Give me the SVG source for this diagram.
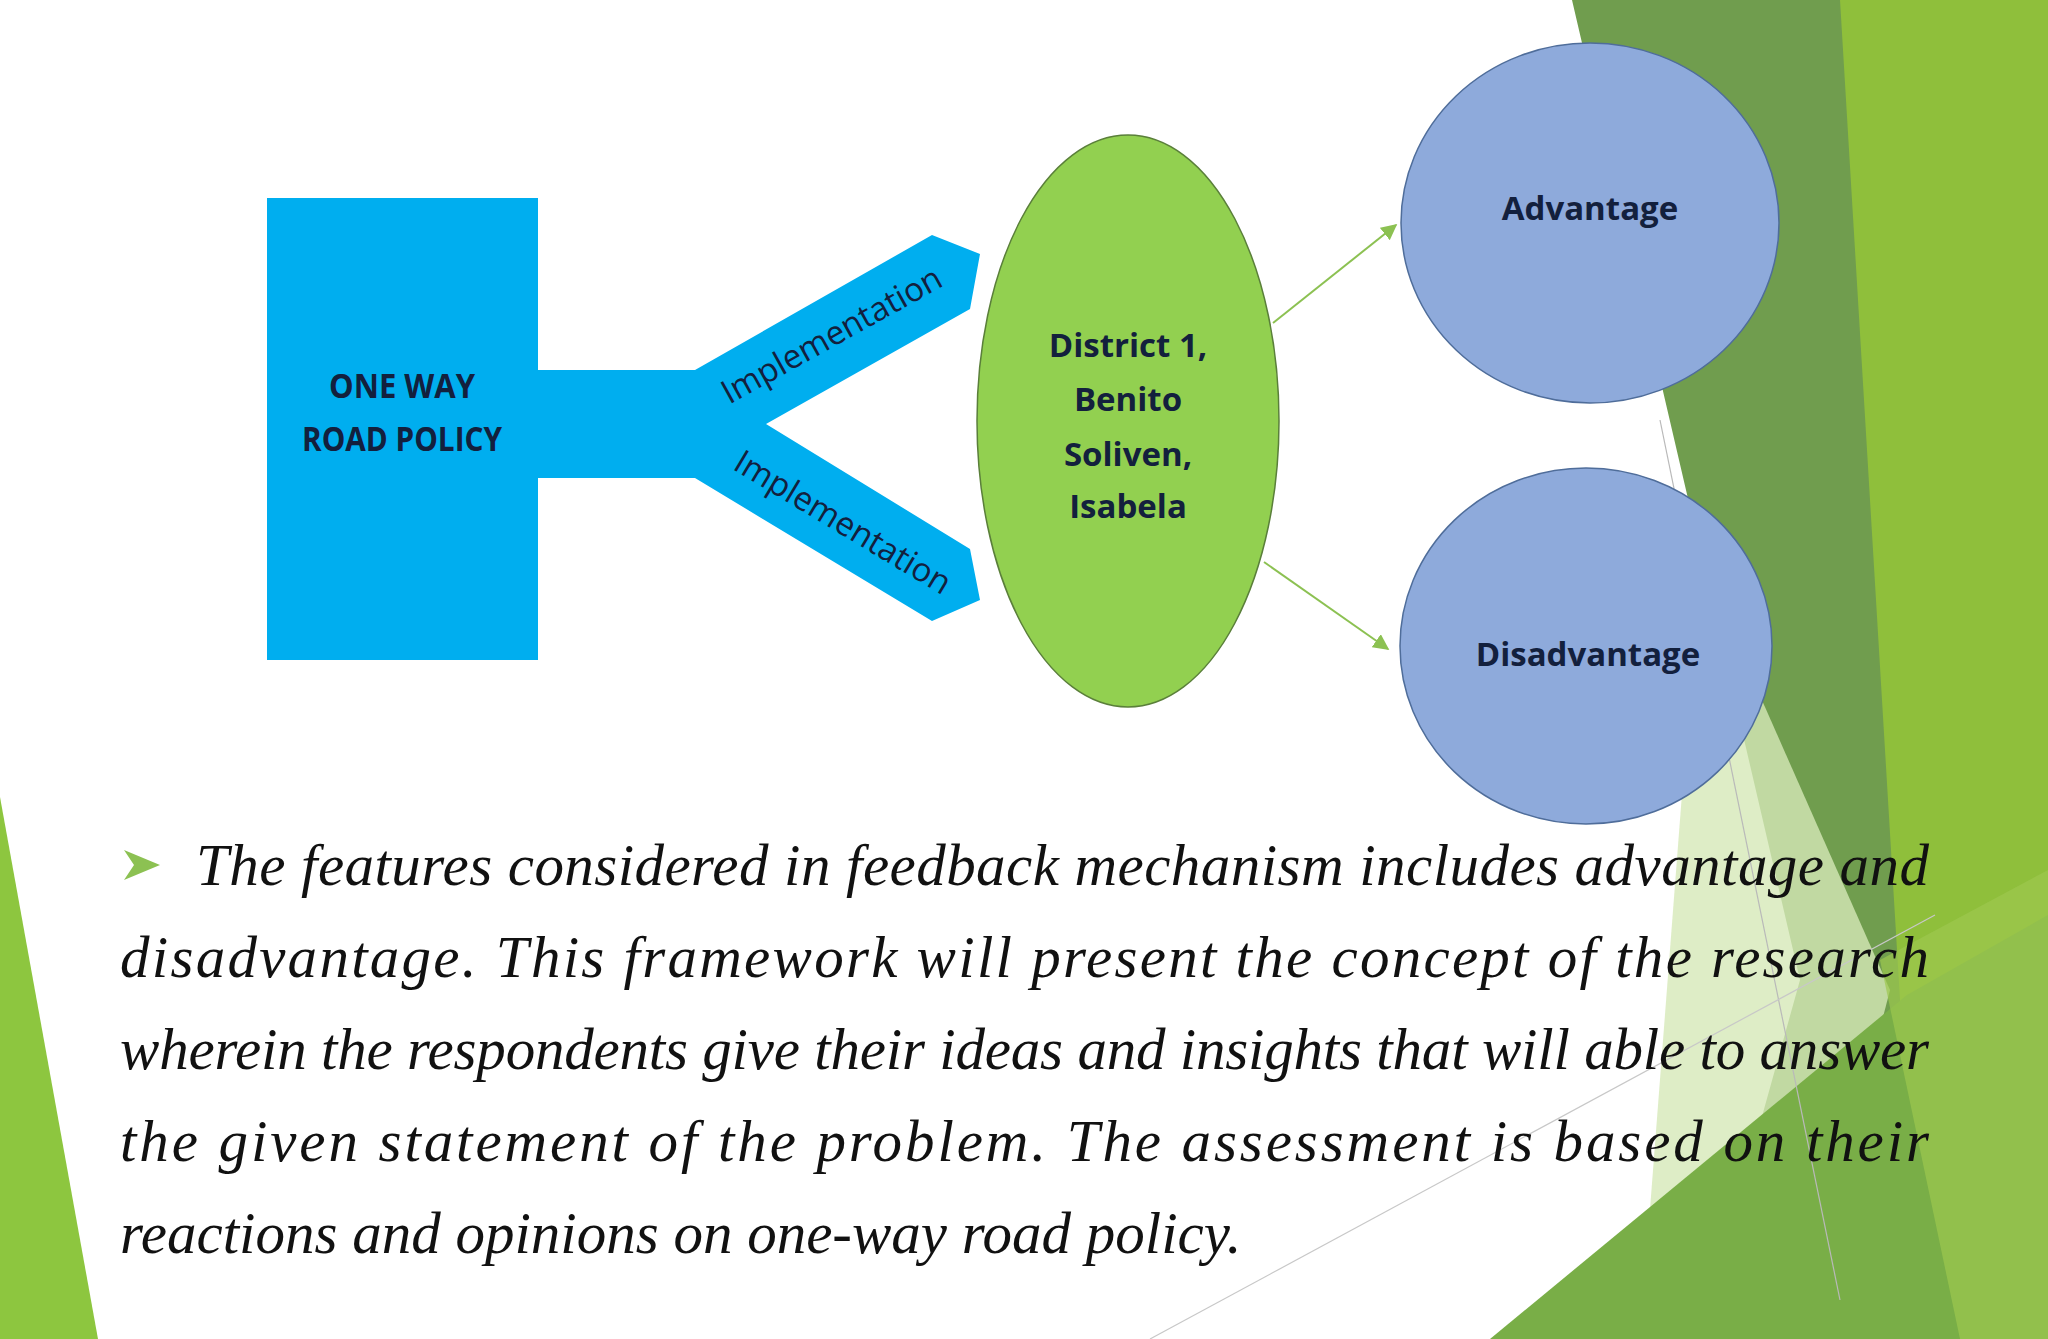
<svg xmlns="http://www.w3.org/2000/svg" width="2048" height="1339" viewBox="0 0 2048 1339">
<style>
.lbl{font-family:"Open Sans","Liberation Sans",sans-serif;font-weight:bold;fill:#13203d;text-anchor:middle}
.para{font-family:"Liberation Serif",serif;font-style:italic;font-size:59px;fill:#111}
</style>
<defs>
<marker id="ah" viewBox="0 0 10 10" refX="9" refY="5" markerWidth="8" markerHeight="8" orient="auto"><path d="M0,0L10,5L0,10z" fill="#8cc152"/></marker>
</defs>
<rect width="2048" height="1339" fill="#fff"/>
<g id="background">
<polygon points="0,797 0,1339 98,1339" fill="#8dc63f"/>
<polygon points="1808,0 2048,0 2048,1339 1850,1339" fill="#8fbf3b"/>
<polygon points="1572,0 1840,0 1900,1000 1860,1339 1700,1339 1800,980" fill="#709d4e"/>
<polygon points="1700,560 1890,990 1800,1339 1640,1339" fill="#d6e8b8" opacity="0.8"/>
<polygon points="1490,1339 1907,995 2048,915 2048,1339" fill="#79ae47"/>
<polygon points="1880,960 2048,870 2048,1339 1960,1339" fill="#9cc84f" opacity="0.7"/>
<line x1="1660" y1="420" x2="1840" y2="1300" stroke="#b9b9b9" stroke-width="1.2"/>
<line x1="1150" y1="1339" x2="1935" y2="915" stroke="#c8c8c8" stroke-width="1.2"/>
</g>
<g id="policy">
<rect x="267" y="198" width="271" height="462" fill="#00aeef"/>
<polygon points="538,370 695,370 932,235 980,254 970,309 766,424 970,549 980,600 932,621 695,478 538,478" fill="#00aeef"/>
<text class="lbl" font-size="34" x="402" y="398" textLength="146" lengthAdjust="spacingAndGlyphs">ONE WAY</text>
<text class="lbl" font-size="34" x="402" y="451" textLength="200" lengthAdjust="spacingAndGlyphs">ROAD POLICY</text>
<text class="lbl" font-size="33" transform="translate(837,345) rotate(-29)" x="0" y="0" style="font-weight:normal">Implementation</text>
<text class="lbl" font-size="33" transform="translate(837,532) rotate(31)" x="0" y="0" style="font-weight:normal">Implementation</text>
</g>
<g id="district">
<ellipse cx="1128" cy="421" rx="151" ry="286" fill="#92d050" stroke="#5a7f3a" stroke-width="1.5"/>
<text class="lbl" font-size="33" x="1128" y="357">District 1,</text>
<text class="lbl" font-size="33" x="1128" y="411">Benito</text>
<text class="lbl" font-size="33" x="1128" y="466">Soliven,</text>
<text class="lbl" font-size="33" x="1128" y="518">Isabela</text>
</g>
<g id="advantage">
<ellipse cx="1590" cy="223" rx="189" ry="180" fill="#8eaadb" stroke="#4f6d9a" stroke-width="1.5"/>
<text class="lbl" font-size="33" x="1590" y="220">Advantage</text>
</g>
<g id="disadvantage">
<ellipse cx="1586" cy="646" rx="186" ry="178" fill="#8eaadb" stroke="#4f6d9a" stroke-width="1.5"/>
<text class="lbl" font-size="33" x="1588" y="666">Disadvantage</text>
</g>
<g id="connectors" stroke="#8cc152" stroke-width="2" fill="none">
<line x1="1273" y1="323" x2="1396" y2="225" marker-end="url(#ah)"/>
<line x1="1264" y1="562" x2="1388" y2="649" marker-end="url(#ah)"/>
</g>
<g id="paragraph">
<polygon points="124,850 160,865 124,880 134,865" fill="#8cc152"/>
<text class="para" x="196" y="885" textLength="1733" lengthAdjust="spacing">The features considered in feedback mechanism includes advantage and</text>
<text class="para" x="120" y="977" textLength="1809" lengthAdjust="spacing">disadvantage. This framework will present the concept of the research</text>
<text class="para" x="120" y="1069" textLength="1809" lengthAdjust="spacing">wherein the respondents give their ideas and insights that will able to answer</text>
<text class="para" x="120" y="1161" textLength="1809" lengthAdjust="spacing">the given statement of the problem. The assessment is based on their</text>
<text class="para" x="120" y="1253">reactions and opinions on one-way road policy.</text>
</g>
</svg>
